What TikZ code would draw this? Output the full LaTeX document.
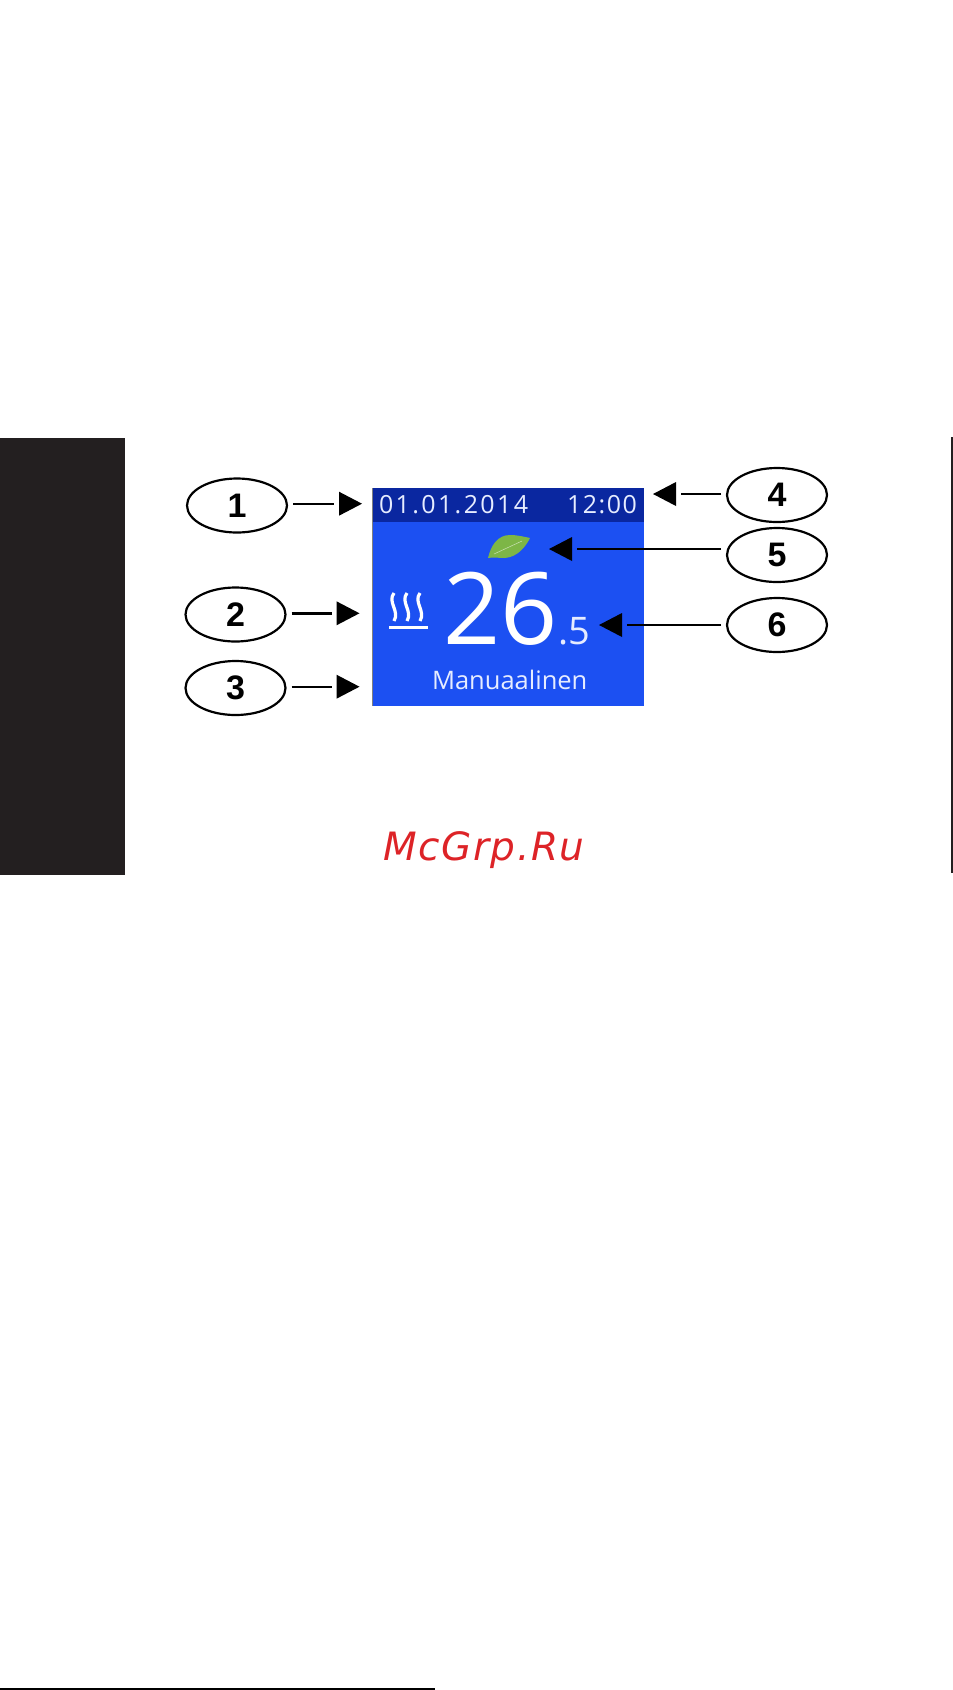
\documentclass[tikz,border=0pt]{standalone}
\usepackage{xcolor}
\usepackage{fontspec}
\usetikzlibrary{positioning}
\usetikzlibrary{shapes.geometric}
\setmainfont{Liberation Sans}
\newfontfamily\screenfont{Open Sans}
\newfontfamily\datefont[LetterSpace=9.5]{Open Sans}
\newfontfamily\clockfont[LetterSpace=6]{Open Sans}
\newfontfamily\markfont[LetterSpace=4]{DejaVu Sans}
\definecolor{sidebar}{HTML}{231F20}
\definecolor{screenblue}{HTML}{1C50F2}
\definecolor{headerblue}{HTML}{0A27A0}
\definecolor{leafgreen}{HTML}{7DB646}
\definecolor{markred}{HTML}{DD2327}
\definecolor{screenwhite}{HTML}{E6ECFF}
\tikzset{callout/.style={draw=black, ellipse, line width=2.2pt, outer sep=0pt, minimum width=100pt, minimum height=54pt, inner sep=0pt, font=\fontsize{34}{34}\selectfont\bfseries}}
\tikzset{tipright/.style={fill=black, isosceles triangle, isosceles triangle stretches, minimum width=24pt, minimum height=23pt, inner sep=0pt, outer sep=0pt}}
\tikzset{tipleft/.style={tipright, shape border rotate=180}}
\tikzset{leader/.style={draw=black, line width=2.4pt, shorten <=6pt, shorten >=5pt}}
\tikzset{screentext/.style={anchor=base west, inner sep=0pt, outer sep=0pt, text=screenwhite}}

\begin{document}
\begin{tikzpicture}[x=1pt, y=-1pt]
		\useasboundingbox (0,0) rectangle (953,1690);
		\fill[sidebar] (0,438) rectangle (125,875);
		\draw[sidebar, line width=1.2pt] (952,437) -- (952,873);
		\draw[black, line width=1.6pt] (0,1689) -- (435,1689);
		
		% display
		\fill[screenblue] (372.5,488) rectangle (643.5,706);
		\fill[headerblue] (372.5,488) rectangle (643.5,522);
		\draw[gray, line width=0.8pt] (372.5,488) -- (372.5,706);
		\node[screentext] (date) at (379,513) {\fontsize{25}{25}\datefont 01.01.2014};
		\node[screentext] (clock) at (567,513) {\fontsize{25}{25}\clockfont 12:00};
		\node[screentext, text=white] (temp) at (443,644) {\fontsize{100}{100}\screenfont 26};
		\node[screentext] (frac) at (558,644) {\fontsize{38}{38}\screenfont .5};
		\node[screentext] (mode) at (432,689) {\fontsize{25.5}{25.5}\screenfont Manuaalinen};
		
		% heating symbol
		\begin{scope}[white, line width=3.2pt]
			\foreach \x in {392,405,418} {
				\draw (\x+2,593) .. controls (\x-5,602) and (\x+8,611) .. (\x+2,621);
			}
			\draw[line width=3pt] (389,627) -- (428,627);
		\end{scope}
		
		% leaf
		\fill[leafgreen] (488,558) .. controls (491,545) and (498,535) .. (510,535) .. controls (518,535) and (525,537) .. (530,538) .. controls (526,546) and (518,557) .. (505,558) .. controls (499,558) and (493,557) .. (488,558);
		\draw[white!60!leafgreen, line width=0.5pt] (494,554) -- (522,541);
		
		\node[callout] (c1) at (237,505.5) {1};
		\node[callout] (c2) [below=55pt of c1, xshift=-1.5pt] {2};
		\node[callout] (c3) [below=19.5pt of c2] {3};
		\node[callout] (c4) at (777,495) {4};
		\node[callout] (c5) [below=6pt of c4] {5};
		\node[callout] (c6) [below=16pt of c5] {6};
		
		\node[tipright] (t1) [right=52pt of c1, yshift=1.8pt] {};
		\node[tipright] (t2) [right=51pt of c2, yshift=1.2pt] {};
		\node[tipright] (t3) [right=51pt of c3, yshift=1.3pt] {};
		\node[tipleft] (t4) [left=51pt of c4, yshift=1pt] {};
		\node[tipleft] (t5) [left=155pt of c5, yshift=6pt] {};
		\node[tipleft] (t6) [left=105pt of c6] {};
		
		\draw[leader] (c1.east |- t1) -- (t1.west);
		\draw[leader] (c2.east |- t2) -- (t2.west);
		\draw[leader] (c3.east |- t3) -- (t3.west);
		\draw[leader] (c4.west |- t4) -- (t4.east);
		\draw[leader] (c5.west |- t5) -- (t5.east);
		\draw[leader] (c6.west |- t6) -- (t6.east);
		
		\node[anchor=base west, inner sep=0pt, text=markred] (mark) at (383,860) {\fontsize{39}{39}\markfont\itshape McGrp.Ru};
	\end{tikzpicture}
\end{document}
